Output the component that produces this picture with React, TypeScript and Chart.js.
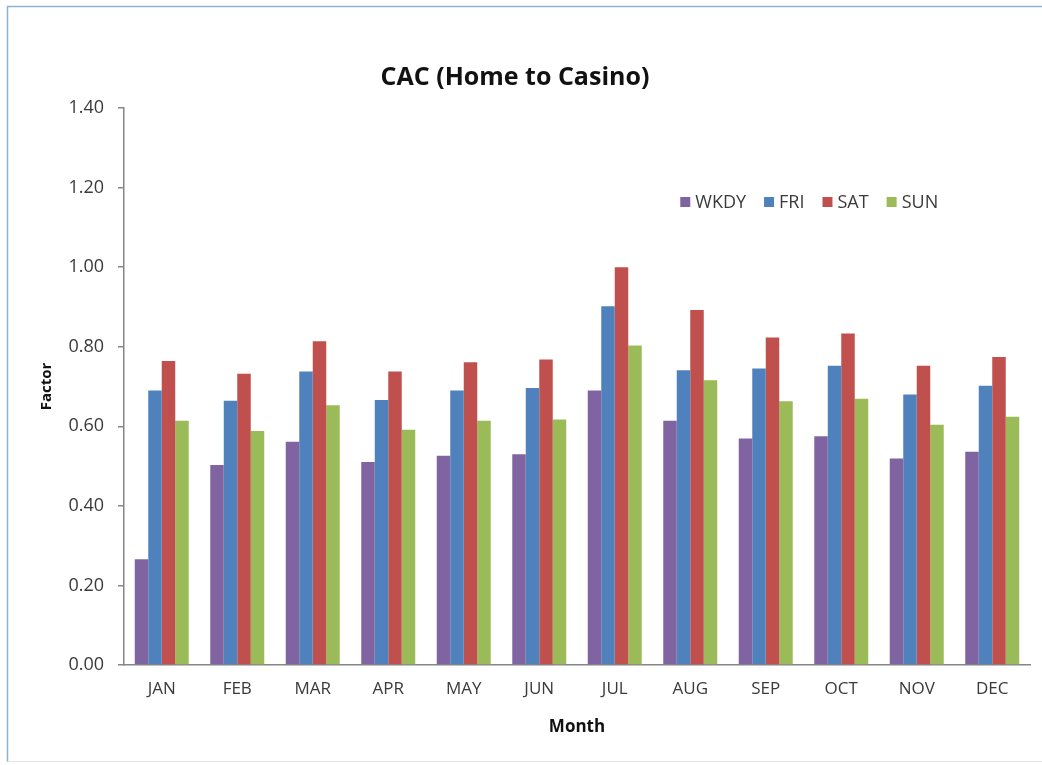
import React, { useEffect, useRef } from "react";
import { Chart, registerables } from "chart.js";

Chart.register(...registerables);

const months = ["JAN", "FEB", "MAR", "APR", "MAY", "JUN", "JUL", "AUG", "SEP", "OCT", "NOV", "DEC"];
const wkdy = [0.266, 0.503, 0.561, 0.51, 0.526, 0.53, 0.69, 0.614, 0.569, 0.575, 0.519, 0.536];
const fri = [0.69, 0.664, 0.738, 0.666, 0.69, 0.696, 0.902, 0.741, 0.745, 0.752, 0.68, 0.702];
const sat = [0.764, 0.732, 0.814, 0.738, 0.761, 0.768, 1.0, 0.892, 0.823, 0.833, 0.752, 0.774];
const sun = [0.614, 0.588, 0.653, 0.591, 0.614, 0.617, 0.803, 0.716, 0.663, 0.669, 0.604, 0.624];
const yTicks = [0, 0.2, 0.4, 0.6, 0.8, 1.0, 1.2, 1.4];

const FONT = "'Open Sans', 'Noto Sans', sans-serif";
const TEXT = "#3a3a3a";
const AXIS = "#868686";

const frame = {
  id: "frame",
  beforeDraw(chart: any) {
    const ctx = chart.ctx;
    ctx.save();
    ctx.fillStyle = "#ffffff";
    ctx.fillRect(0, 0, chart.width, chart.height);
    ctx.lineWidth = 1.5;
    ctx.strokeStyle = "#8fb2d2";
    ctx.beginPath();
    ctx.moveTo(7.5, chart.height - 3);
    ctx.lineTo(7.5, 6.5);
    ctx.lineTo(chart.width, 6.5);
    ctx.stroke();
    ctx.strokeStyle = "#e4e4e4";
    ctx.lineWidth = 1;
    ctx.beginPath();
    ctx.moveTo(7.5, chart.height - 3.5);
    ctx.lineTo(chart.width, chart.height - 3.5);
    ctx.stroke();
    ctx.restore();
  },
};

const innerLegend = {
  id: "innerLegend",
  afterDraw(chart: any) {
    const ctx = chart.ctx;
    const area = chart.chartArea;
    ctx.save();
    ctx.font = `18px ${FONT}`;
    ctx.textBaseline = "middle";
    ctx.textAlign = "left";
    let x = area.left + 0.614 * (area.right - area.left);
    const y = area.top + 94;
    chart.data.datasets.forEach((ds: any) => {
      ctx.fillStyle = ds.backgroundColor;
      ctx.fillRect(x, y - 5, 10, 10);
      x += 15;
      ctx.fillStyle = TEXT;
      ctx.fillText(ds.label, x, y + 1);
      x += ctx.measureText(ds.label).width + 18;
    });
    ctx.restore();
  },
};

export default function App() {
  const ref = useRef<HTMLCanvasElement | null>(null);

  useEffect(() => {
    if (!ref.current) return;
    const chart = new Chart(ref.current, {
      type: "bar",
      data: {
        labels: months,
        datasets: [
          { label: "WKDY", data: wkdy, backgroundColor: "#8064A2" },
          { label: "FRI", data: fri, backgroundColor: "#4F81BD" },
          { label: "SAT", data: sat, backgroundColor: "#C0504D" },
          { label: "SUN", data: sun, backgroundColor: "#9BBB59" },
        ],
      },
      options: {
        responsive: false,
        animation: false,
        layout: { padding: { left: 0, right: 12, top: 0, bottom: 0 } },
        datasets: { bar: { categoryPercentage: 0.715, barPercentage: 1.0 } },
        plugins: {
          legend: { display: false },
          tooltip: { enabled: false },
          title: {
            display: true,
            text: "CAC (Home to Casino)",
            color: "#111111",
            font: { family: FONT, size: 25, weight: "bold" },
            padding: { top: 63, bottom: 15 },
          },
        },
        scales: {
          x: {
            grid: { display: false, drawTicks: false },
            border: { color: AXIS, width: 1.5 },
            ticks: { color: TEXT, font: { family: FONT, size: 17 }, padding: 14 },
            title: {
              display: true,
              text: "Month",
              color: "#111111",
              font: { family: FONT, size: 17, weight: "bold" },
              padding: { top: 0, bottom: 28 },
            },
            afterFit: (s: any) => {
              s.height = 100;
            },
          },
          y: {
            min: 0,
            max: 1.4,
            afterBuildTicks: (s: any) => {
              s.ticks = yTicks.map((v) => ({ value: v }));
            },
            grid: { drawOnChartArea: false, drawTicks: true, tickLength: 6, color: AXIS, lineWidth: 1.5 },
            border: { color: AXIS, width: 1.5 },
            ticks: {
              color: TEXT,
              font: { family: FONT, size: 18 },
              padding: 14,
              callback: (v: any) => Number(v).toFixed(2),
            },
            title: {
              display: true,
              text: "Factor",
              color: "#111111",
              font: { family: FONT, size: 15, weight: "bold" },
              padding: { top: 38, bottom: 0 },
            },
            afterFit: (s: any) => {
              s.width = 124;
            },
          },
        },
      },
      plugins: [frame, innerLegend],
    });
    return () => chart.destroy();
  }, []);

  return (
    <canvas
      ref={ref}
      width={1042}
      height={765}
      style={{ position: "absolute", left: 0, top: 0, display: "block" }}
    />
  );
}
